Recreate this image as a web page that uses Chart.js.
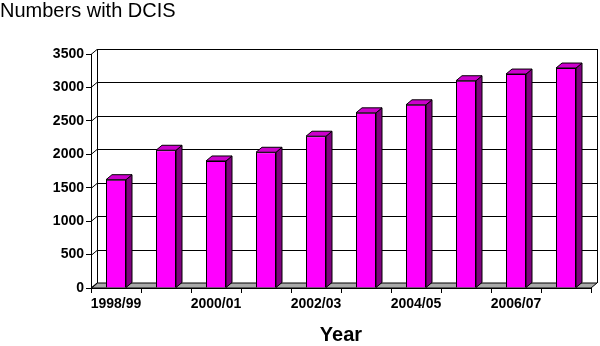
<!DOCTYPE html>
<html>
<head>
<meta charset="utf-8">
<script src="https://cdn.jsdelivr.net/npm/chart.js@4/dist/chart.umd.min.js"></script>
<style>
    html, body { margin: 0; padding: 0; background: #fff; }
    #wrap { width: 600px; height: 346px; }
</style>
</head>
<body>
<div id="wrap"><canvas id="chart"></canvas></div>
<script>
// data
const years = ['1998/99', '1999/00', '2000/01', '2001/02', '2002/03', '2003/04', '2004/05', '2005/06', '2006/07', '2007/08'];
const dcisCounts = [1620, 2060, 1900, 2030, 2270, 2620, 2740, 3100, 3200, 3290];
const yTicks = [0, 500, 1000, 1500, 2000, 2500, 3000, 3500];

const FONT = 'Liberation Sans, Arial, sans-serif';
const DEPTH_X = 6;
const DEPTH_Y = 5;

// back wall, side wall and floor behind the bars
const wallPlugin = {
    id: 'walls',
    beforeDatasetsDraw(chart) {
        const ctx = chart.ctx;
        const { left, right, top, bottom } = chart.chartArea;
        const y = chart.scales.y;
        ctx.save();
        ctx.lineWidth = 1;
        ctx.strokeStyle = '#000';

        // floor
        ctx.fillStyle = '#a9a9a9';
        ctx.beginPath();
        ctx.moveTo(left, bottom);
        ctx.lineTo(right, bottom);
        ctx.lineTo(right + DEPTH_X, bottom - DEPTH_Y);
        ctx.lineTo(left + DEPTH_X, bottom - DEPTH_Y);
        ctx.closePath();
        ctx.fill();
        ctx.stroke();

        // gridlines on the back wall + left wall
        yTicks.forEach(v => {
            const py = Math.round(y.getPixelForValue(v)) + 0.5;
            ctx.beginPath();
            ctx.moveTo(left, py);
            ctx.lineTo(left + DEPTH_X, py - DEPTH_Y);
            if (v > 0) ctx.lineTo(right + DEPTH_X, py - DEPTH_Y);
            ctx.stroke();
        });

        // wall edges
        ctx.beginPath();
        ctx.moveTo(left + DEPTH_X + 0.5, top - DEPTH_Y);
        ctx.lineTo(left + DEPTH_X + 0.5, bottom - DEPTH_Y);
        ctx.moveTo(right + DEPTH_X + 0.5, top - DEPTH_Y);
        ctx.lineTo(right + DEPTH_X + 0.5, bottom - DEPTH_Y);
        ctx.stroke();
        ctx.restore();
    }
};

// side and top faces of the columns
const boxPlugin = {
    id: 'boxes',
    afterDatasetsDraw(chart) {
        const ctx = chart.ctx;
        const meta = chart.getDatasetMeta(0);
        ctx.save();
        ctx.lineWidth = 1;
        ctx.strokeStyle = '#000';
        meta.data.forEach(bar => {
            const p = bar.getProps(['x', 'y', 'base', 'width'], true);
            const l = p.x - p.width / 2, r = p.x + p.width / 2;
            const t = p.y, b = p.base;

            ctx.fillStyle = '#800080';
            ctx.beginPath();
            ctx.moveTo(r, t);
            ctx.lineTo(r + DEPTH_X, t - DEPTH_Y);
            ctx.lineTo(r + DEPTH_X, b - DEPTH_Y);
            ctx.lineTo(r, b);
            ctx.closePath();
            ctx.fill();
            ctx.stroke();

            ctx.fillStyle = '#cc00cc';
            ctx.beginPath();
            ctx.moveTo(l, t);
            ctx.lineTo(l + DEPTH_X, t - DEPTH_Y);
            ctx.lineTo(r + DEPTH_X, t - DEPTH_Y);
            ctx.lineTo(r, t);
            ctx.closePath();
            ctx.fill();
            ctx.stroke();
        });
        ctx.restore();
    }
};

new Chart(document.getElementById('chart'), {
    type: 'bar',
    data: {
        labels: years,
        datasets: [{
            label: 'Numbers with DCIS',
            data: dcisCounts,
            backgroundColor: '#ff00ff',
            borderColor: '#000',
            borderWidth: 1,
            categoryPercentage: 1,
            barPercentage: 0.4
        }]
    },
    options: {
        responsive: true,
        maintainAspectRatio: false,
        animation: false,
        layout: { padding: { left: 0, right: 9, top: 0, bottom: 0 } },
        plugins: {
            legend: { display: false },
            tooltip: { enabled: false },
            title: {
                display: true,
                text: 'Numbers with DCIS',
                align: 'start',
                color: '#000',
                font: { family: FONT, size: 20, weight: 'normal', lineHeight: 1.1 },
                padding: { top: 0, bottom: 32 }
            }
        },
        scales: {
            x: {
                offset: true,
                grid: { display: true, drawOnChartArea: false, offset: true, tickLength: 5, color: '#000' },
                border: { display: true, color: '#000' },
                ticks: {
                    autoSkip: false,
                    maxRotation: 0,
                    color: '#000',
                    padding: 3,
                    font: { family: FONT, size: 14, weight: 'bold' },
                    callback: (v, i) => i % 2 === 0 ? years[i] : ''
                },
                title: {
                    display: true,
                    text: 'Year',
                    color: '#000',
                    font: { family: FONT, size: 20, weight: 'bold', lineHeight: 1.1 },
                    padding: { top: 0, bottom: 0 }
                },
                afterFit: s => { s.height = 58; }
            },
            y: {
                min: 0,
                max: 3500,
                ticks: {
                    stepSize: 500,
                    color: '#000',
                    padding: 2,
                    font: { family: FONT, size: 14, weight: 'bold' },
                    callback: v => String(v)
                },
                grid: { display: true, drawOnChartArea: false, tickLength: 5, color: '#000' },
                border: { display: true, color: '#000' },
                afterFit: s => { s.width = 91; }
            }
        }
    },
    plugins: [wallPlugin, boxPlugin]
});
</script>
</body>
</html>
